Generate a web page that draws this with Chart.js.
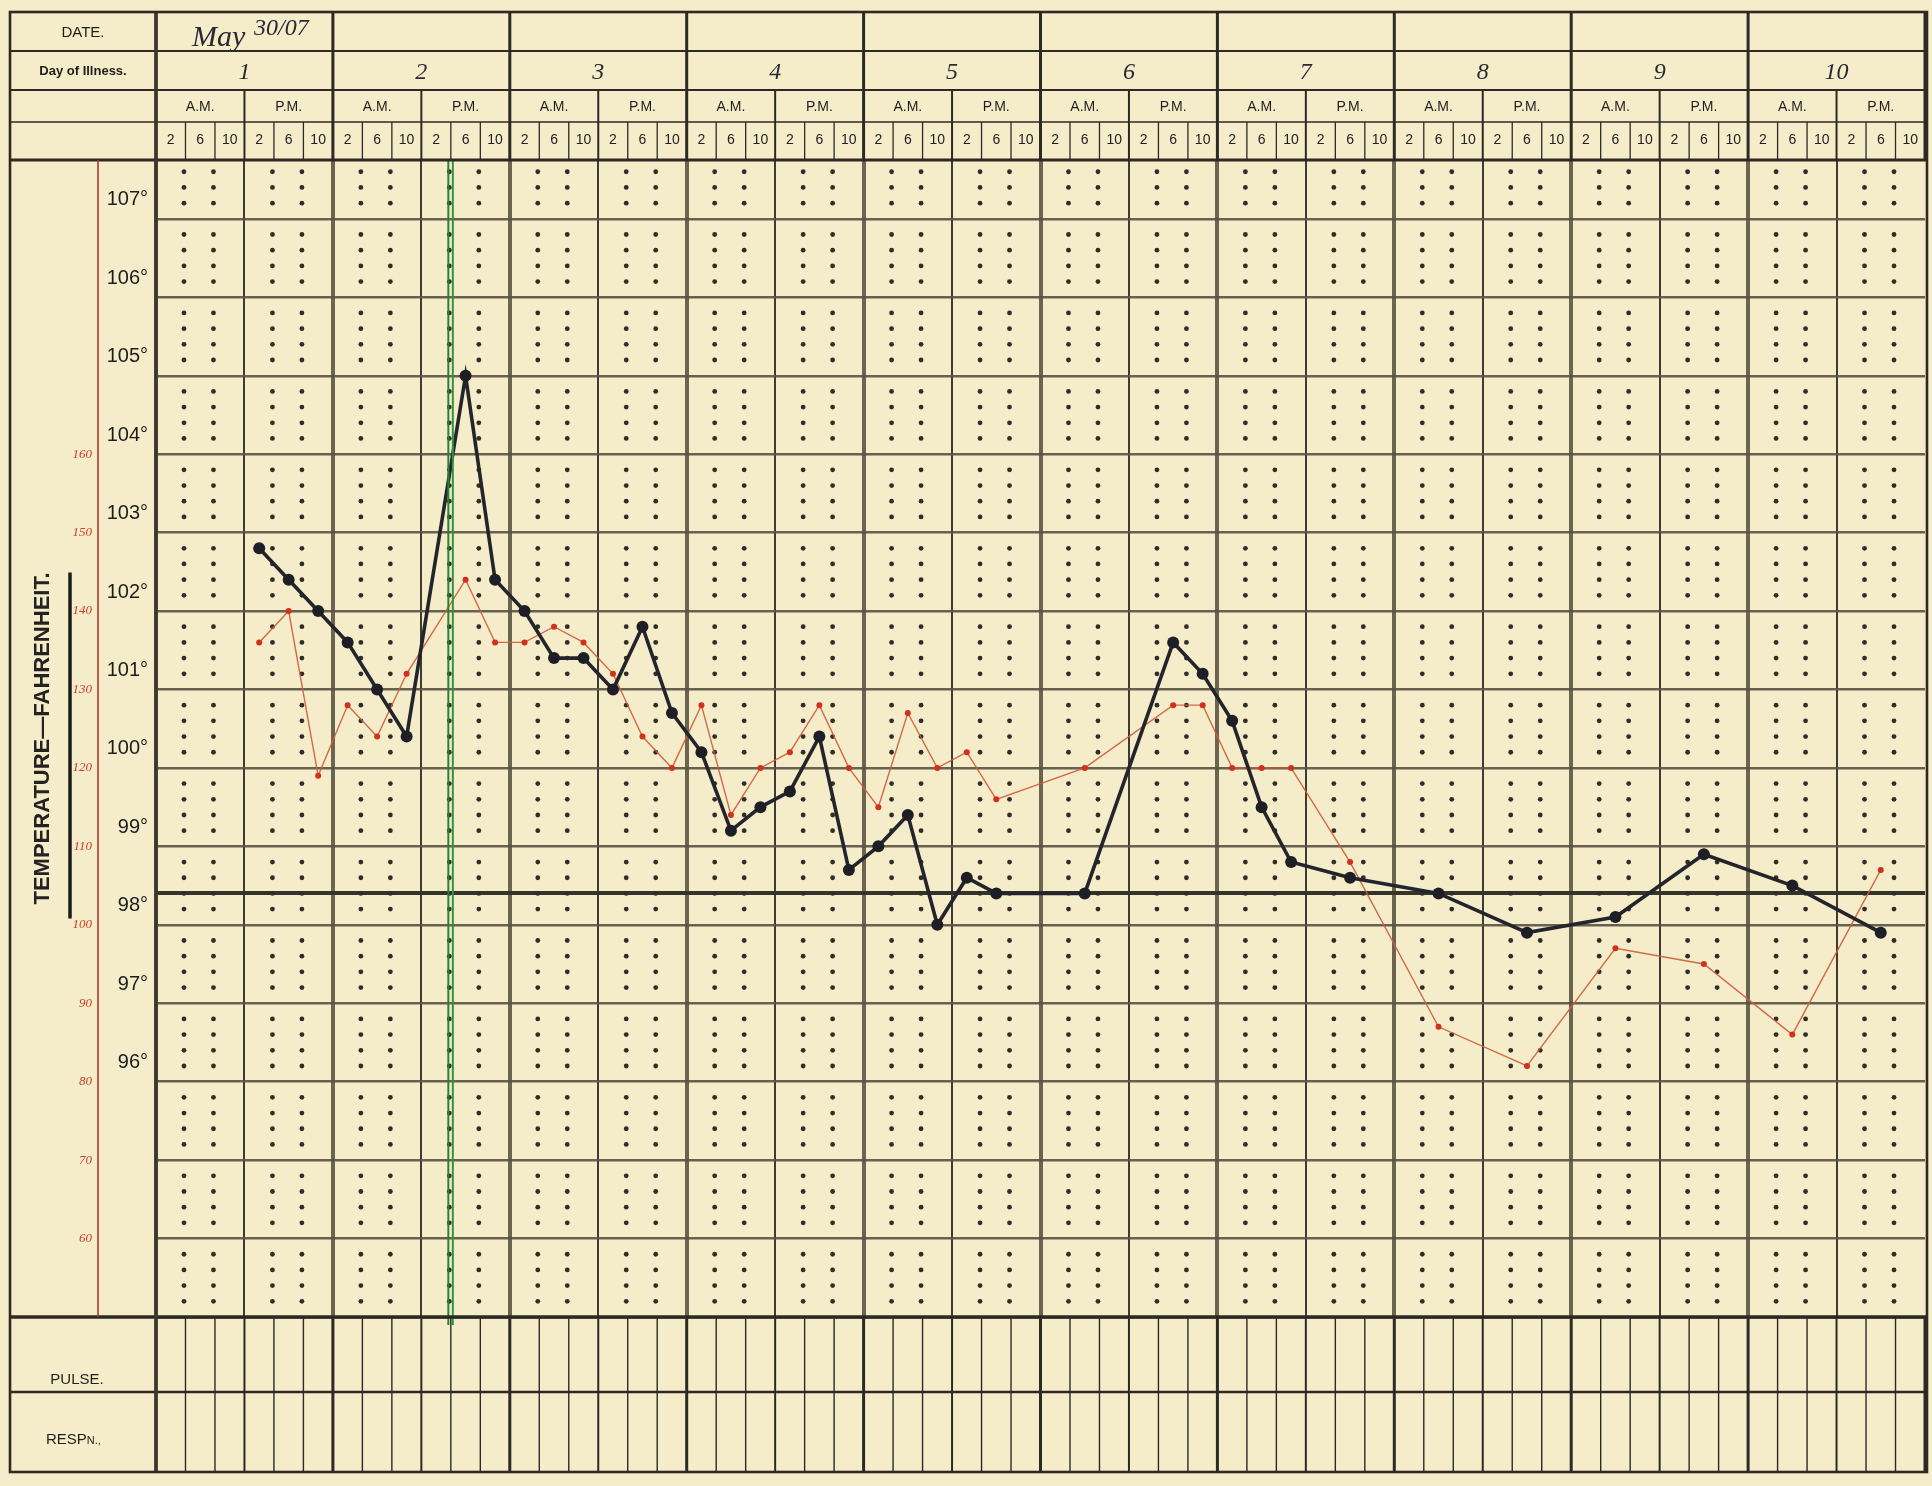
<!DOCTYPE html>
<html>
<head>
<meta charset="utf-8">
<script src="https://cdn.jsdelivr.net/npm/chart.js@4.4.1/dist/chart.umd.min.js"></script>
<style>
html,body{margin:0;padding:0;background:#f4ebc7;}
canvas{display:block;}
</style>
</head>
<body>
<canvas id="chart" width="1932" height="1486"></canvas>
<script>
// ---------- data ----------
const days = ['1','2','3','4','5','6','7','8','9','10'];
const dateWord = 'May';
const dateNumber = '30/07';
const halves = ['A.M.', 'P.M.'];
const hours = ['2', '6', '10'];

// temperature (°F), one entry per 4-hour slot (10 days x 6 slots)
const temperature = [
  null, null, null, 102.8, 102.4, 102.0,
  101.6, 101.0, 100.4, null, 105.0, 102.4,
  102.0, 101.4, 101.4, 101.0, 101.8, 100.7,
  100.2, 99.2, 99.5, 99.7, 100.4, 98.7,
  99.0, 99.4, 98.0, 98.6, 98.4, null,
  null, 98.4, null, null, 101.6, 101.2,
  100.6, 99.5, 98.8, null, 98.6, null,
  null, 98.4, null, null, 97.9, null,
  null, 98.1, null, null, 98.9, null,
  null, 98.5, null, null, 97.9, null
];

// pulse (beats / min), same slots
const pulse = [
  null, null, null, 136, 140, 119,
  128, 124, 132, null, 144, 136,
  136, 138, 136, 132, 124, 120,
  128, 114, 120, 122, 128, 120,
  115, 127, 120, 122, 116, null,
  null, 120, null, null, 128, 128,
  120, 120, 120, null, 108, null,
  null, 87, null, null, 82, null,
  null, 97, null, null, 95, null,
  null, 86, null, null, 107, null
];

const tempTicks = [93, 94, 95, 96, 97, 98, 99, 100, 101, 102, 103, 104, 105, 106, 107];
const tempLabelFrom = 96;
const normalTemp = 98.4;
const tempMin = 93, tempMax = 107.75;
const pulseTicks = [60, 70, 80, 90, 100, 110, 120, 130, 140, 150, 160];
const pulseMin = 50, pulseMax = 197.5;
const markerBetween = [9, 10];   // green vertical marker between these slots

// slot labels for the x axis (2 6 10 | 2 6 10 for every day)
const slotLabels = [];
days.forEach(() => halves.forEach(() => hours.forEach(h => slotLabels.push(h))));

// ---------- drawing helpers ----------
const INK = '#2c2a23';
function line(ctx, x1, y1, x2, y2, w, c) {
  ctx.beginPath();
  ctx.lineWidth = w;
  ctx.strokeStyle = c || INK;
  ctx.moveTo(x1, y1);
  ctx.lineTo(x2, y2);
  ctx.stroke();
}

const FRAME = { left: 10, top: 12, bottom: 1472 };
const ROWS = [12, 51, 90, 122];
const RESP_TOP = 1392;

const sheet = {
  id: 'sheet',
  beforeDraw(chart) {
    const { ctx } = chart;
    ctx.save();
    ctx.fillStyle = '#f5ecc9';
    ctx.fillRect(0, 0, chart.width, chart.height);
    ctx.restore();
  },
  beforeDatasetsDraw(chart) {
    const { ctx, chartArea: a, scales: { y } } = chart;
    const n = slotLabels.length;
    const sw = (a.right - a.left) / n;
    ctx.save();
    ctx.fillStyle = '#2f2d27';
    for (let h = 0; h < n / 3; h++) {
      for (const k of [1, 2]) {
        const px = a.left + (3 * h + k) * sw - 1.5;
        for (let j = Math.ceil(tempMin * 5) + 1; j <= Math.floor(tempMax * 5); j++) {
          if (j % 5 === 0) continue;
          const py = y.getPixelForValue(j / 5);
          ctx.beginPath();
          ctx.arc(px, py, 2.4, 0, Math.PI * 2);
          ctx.fill();
        }
      }
    }
    ctx.restore();
  },
  afterDatasetsDraw(chart) {
    const { ctx, chartArea: a, scales: { x } } = chart;
    const gx = (x.getPixelForValue(markerBetween[0]) + x.getPixelForValue(markerBetween[1])) / 2;
    ctx.save();
    line(ctx, gx - 2.5, a.top, gx - 2.5, a.bottom + 8, 2, '#2a8038');
    line(ctx, gx + 2, a.top, gx + 2, a.bottom + 8, 2, '#339342');
    ctx.restore();
  },
  afterDraw(chart) {
    const { ctx, chartArea: a } = chart;
    const n = slotLabels.length;
    const sw = (a.right - a.left) / n;
    const L = FRAME.left, R = a.right + 2, T = FRAME.top, B = FRAME.bottom;
    const C = a.left;
    ctx.save();
    ctx.lineCap = 'butt';

    line(ctx, L, ROWS[1], R, ROWS[1], 2.2);
    line(ctx, L, ROWS[2], R, ROWS[2], 2.2);
    line(ctx, L, ROWS[3], R, ROWS[3], 1.6);
    line(ctx, L, a.top, R, a.top, 3);
    line(ctx, L, a.bottom, R, a.bottom, 3.5);
    line(ctx, L, RESP_TOP, R, RESP_TOP, 2.4);

    for (let i = 0; i <= n; i++) {
      const bx = C + i * sw;
      if (i % 6 === 0) {
        line(ctx, bx, T, bx, a.top, 3);
        line(ctx, bx, a.bottom, bx, B, 3);
      } else if (i % 3 === 0) {
        line(ctx, bx, ROWS[2], bx, a.top, 2);
        line(ctx, bx, a.bottom, bx, B, 2);
      } else {
        line(ctx, bx, ROWS[3], bx, a.top, 1.3);
        line(ctx, bx, a.bottom, bx, B, 1.4);
      }
    }

    line(ctx, C, T, C, B, 3.5, '#3c382d');
    line(ctx, 98, a.top, 98, a.bottom, 1.6, '#a8382c');

    const cy = (a.top + a.bottom) / 2;
    line(ctx, 70, cy - 166, 70, cy + 180, 3.5, '#1d1c18');

    ctx.lineWidth = 2.6;
    ctx.strokeStyle = INK;
    ctx.strokeRect(L, T, R - L, B - T);

    ctx.fillStyle = '#1f1e1a';
    ctx.textAlign = 'center';
    ctx.textBaseline = 'middle';
    const lc = (L + C) / 2;
    ctx.font = '15px "Liberation Sans", Arial, sans-serif';
    ctx.fillText('DATE.', lc, 33);
    ctx.font = 'bold 13px "Liberation Sans", Arial, sans-serif';
    ctx.fillText('Day of Illness.', lc, 71);
    ctx.font = '15px "Liberation Sans", Arial, sans-serif';
    ctx.fillText('PULSE.', lc - 6, 1380);
    ctx.textAlign = 'left';
    ctx.fillText('RESP', 46, 1440);
    const rw = ctx.measureText('RESP').width;
    ctx.font = '11px "Liberation Sans", Arial, sans-serif';
    ctx.fillText('N.,', 46 + rw, 1441);

    ctx.fillStyle = '#2a2a35';
    ctx.textAlign = 'left';
    ctx.font = 'italic 30px "Liberation Serif", "DejaVu Serif", serif';
    ctx.fillText(dateWord, C + 36, 38);
    ctx.font = 'italic 24px "Liberation Serif", "DejaVu Serif", serif';
    ctx.fillText(dateNumber, C + 98, 29);

    ctx.textAlign = 'center';
    ctx.font = 'italic 24px "Liberation Serif", "DejaVu Serif", serif';
    days.forEach((d, i) => {
      ctx.fillText(d, C + (i * 6 + 3) * sw, 73);
    });

    ctx.fillStyle = '#1f1e1a';
    ctx.font = '14px "Liberation Sans", Arial, sans-serif';
    for (let h = 0; h < n / 3; h++) {
      ctx.fillText(halves[h % 2], C + (h * 3 + 1.5) * sw, 107);
    }
    ctx.restore();
  }
};

// ---------- chart ----------
const ctx = document.getElementById('chart').getContext('2d');
new Chart(ctx, {
  type: 'line',
  data: {
    labels: slotLabels,
    datasets: [
      {
        label: 'Temperature',
        data: temperature,
        yAxisID: 'y',
        borderColor: '#24242c',
        backgroundColor: '#24242c',
        borderWidth: 3.6,
        pointRadius: 6,
        pointBorderWidth: 0,
        pointBackgroundColor: '#1e1e26',
        spanGaps: true,
        tension: 0
      },
      {
        label: 'Pulse',
        data: pulse,
        yAxisID: 'y2',
        borderColor: 'rgba(204,92,60,0.9)',
        backgroundColor: '#d2301c',
        borderWidth: 1.4,
        pointRadius: 3,
        pointBorderWidth: 0,
        pointBackgroundColor: '#d2301c',
        spanGaps: true,
        tension: 0
      }
    ]
  },
  options: {
    responsive: false,
    animation: false,
    devicePixelRatio: 1,
    layout: { padding: { left: 0, top: 0, right: 7, bottom: 169 } },
    plugins: { legend: { display: false }, tooltip: { enabled: false }, title: { display: false } },
    scales: {
      x: {
        type: 'category',
        position: 'top',
        offset: true,
        border: { display: false },
        grid: {
          offset: true,
          drawTicks: false,
          color: c => (c.index % 6 === 0 ? 'rgba(92,86,66,0.9)' : (c.index % 3 === 0 ? '#3f3b31' : 'rgba(0,0,0,0)')),
          lineWidth: c => (c.index % 6 === 0 ? 4 : (c.index % 3 === 0 ? 2 : 0))
        },
        ticks: {
          autoSkip: false,
          maxRotation: 0,
          padding: 11,
          color: '#222',
          font: { family: '"Liberation Sans", Arial, sans-serif', size: 14 }
        },
        afterFit: s => { s.height = 160; }
      },
      y: {
        type: 'linear',
        position: 'left',
        weight: 0,
        min: tempMin,
        max: tempMax,
        border: { display: false },
        afterBuildTicks: s => {
          s.ticks = tempTicks.concat([normalTemp]).sort((p, q) => p - q).map(v => ({ value: v }));
        },
        grid: {
          drawTicks: false,
          color: c => (c.tick && c.tick.value === normalTemp ? '#36332a' : (c.tick && c.tick.value === tempMin ? '#2c2a23' : 'rgba(88,83,66,0.9)')),
          lineWidth: c => (c.tick && c.tick.value === normalTemp ? 4 : 2.4)
        },
        ticks: {
          padding: 8,
          labelOffset: -19,
          color: '#1c1c1c',
          font: { family: '"Liberation Sans", Arial, sans-serif', size: 20 },
          callback: v => (Number.isInteger(v) && v >= tempLabelFrom ? v + '°' : '')
        },
        afterFit: s => { s.width = 58; }
      },
      y2: {
        type: 'linear',
        position: 'left',
        weight: 1,
        min: pulseMin,
        max: pulseMax,
        border: { display: false },
        grid: { display: false, drawTicks: false },
        afterBuildTicks: s => { s.ticks = pulseTicks.map(v => ({ value: v })); },
        ticks: {
          padding: 6,
          color: '#c8402a',
          font: { family: '"Liberation Serif", "DejaVu Serif", serif', size: 13, style: 'italic' },
          callback: v => String(v)
        },
        title: {
          display: true,
          text: 'TEMPERATURE\u2014FAHRENHEIT.',
          color: '#232220',
          font: { family: '"Liberation Sans", Arial, sans-serif', size: 22, weight: 'bold' },
          padding: { top: 30, bottom: 0 }
        },
        afterFit: s => { s.width = 98; }
      }
    }
  },
  plugins: [sheet]
});
</script>
</body>
</html>
